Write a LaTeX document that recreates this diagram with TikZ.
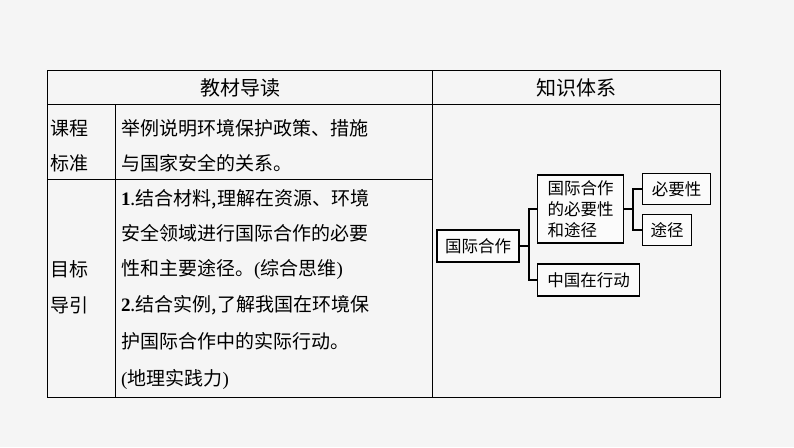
\documentclass[tikz,border=0pt]{standalone}
\usepackage{fontspec}
\setmainfont{Noto Sans CJK SC}
\newfontfamily\latinfont{Liberation Serif}
\usetikzlibrary{positioning}
\tikzset{
  cell/.style={anchor=west,inner sep=0pt,font=\fontsize{19}{19}\selectfont},
  head/.style={inner sep=0pt,font=\fontsize{20}{20}\selectfont},
  box/.style={draw,line width=1.3pt,fill=white!97!gray,font=\fontsize{16.5}{21}\selectfont,inner sep=2pt,align=left},
  tree/.style={line width=1.3pt}
}
\begin{document}
\begin{tikzpicture}[x=1pt,y=-1pt]
  \fill[gray!8] (0,0) rectangle (794,447);
  \useasboundingbox (0,0) rectangle (794,447);
  % table
  \draw[line width=1pt] (47,70) rectangle (720,397);
  \draw[line width=1pt] (47,104) -- (720,104);
  \draw[line width=1pt] (432,70) -- (432,397);
  \draw[line width=1pt] (115,104) -- (115,397);
  \draw[line width=1pt] (47,179) -- (432,179);
  \node[head] (h1) at (240,88) {教材导读};
  \node[head] (h2) at (576,88) {知识体系};
  \node[cell] (k1) at (50,128) {课程};
  \node[cell] (k2) at (50,163) {标准};
  \node[cell] (s1) at (121,128) {举例说明环境保护政策、措施};
  \node[cell] (s2) at (121,163) {与国家安全的关系。};
  \node[cell] (m1) at (50,269) {目标};
  \node[cell] (m2) at (50,305) {导引};
  \node[cell] (t1) at (121,199) {{\latinfont\bfseries 1}.结合材料,理解在资源、环境};
  \node[cell] (t2) at (121,233) {安全领域进行国际合作的必要};
  \node[cell] (t3) at (121,269) {性和主要途径。{\latinfont(}综合思维{\latinfont)}};
  \node[cell] (t4) at (121,305) {{\latinfont\bfseries 2}.结合实例,了解我国在环境保};
  \node[cell] (t5) at (121,341) {护国际合作中的实际行动。};
  \node[cell] (t6) at (121,379) {{\latinfont(}地理实践力{\latinfont)}};
  % knowledge tree
  \node[box,minimum width=82,minimum height=32] (coop) at (478,246) {国际合作};
  \node[box,minimum width=86,minimum height=68,anchor=west] (need) at (537,209) {国际合作\\的必要性\\和途径};
  \node[box,minimum width=102,minimum height=32,anchor=west] (china) at (537,280) {中国在行动};
  \node[box,minimum width=68,minimum height=31,anchor=west] (nec) at (642,189) {必要性};
  \node[box,minimum width=49,minimum height=31,anchor=west] (way) at (642,230) {途径};
  \coordinate (j1) at (529,246);
  \coordinate (j2) at (633,209);
  \draw[tree] (coop.east) -- (j1) |- (need.west);
  \draw[tree] (j1) |- (china.west);
  \draw[tree] (need.east) -- (j2) |- (nec.west);
  \draw[tree] (j2) |- (way.west);
\end{tikzpicture}
\end{document}
